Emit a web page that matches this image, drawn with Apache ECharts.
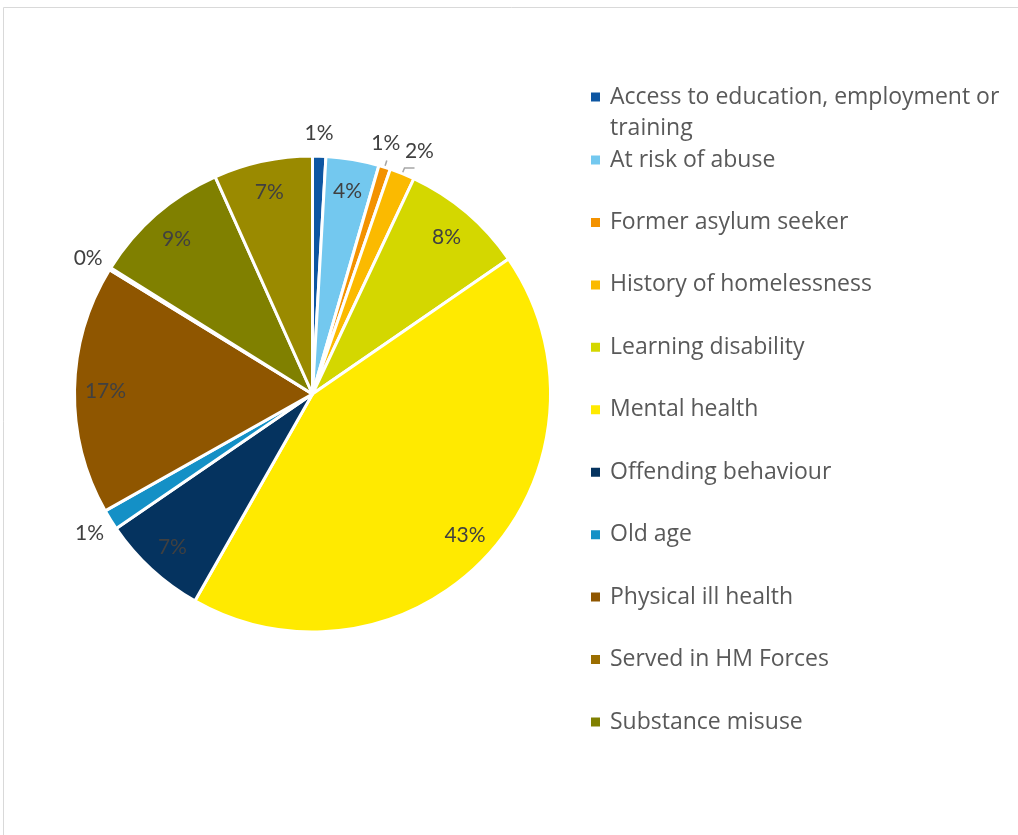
<!DOCTYPE html>
<html>
<head>
<meta charset="utf-8">
<script src="https://cdn.jsdelivr.net/npm/echarts@6/dist/echarts.min.js"></script>
<style>
html,body{margin:0;padding:0;background:#fff;}
#chart{width:1018px;height:835px;}
</style>
</head>
<body>
<div id="chart"></div>
<script>
// ---- data ----
const categories = [
  'Access to education, employment or training',
  'At risk of abuse',
  'Former asylum seeker',
  'History of homelessness',
  'Learning disability',
  'Mental health',
  'Offending behaviour',
  'Old age',
  'Physical ill health',
  'Served in HM Forces',
  'Substance misuse',
  'Other'
];
const values = [0.9, 3.6, 0.8, 1.7, 8.4, 42.8, 7.2, 1.4, 16.9, 0.15, 9.4, 6.7];
const colors = ['#0d56a2', '#73c8ef', '#f39200', '#fbba00', '#d4d700', '#ffea00',
                '#05335f', '#1490c6', '#8f5600', '#9b6e00', '#808000', '#9a8a00'];
// which labels sit outside the pie
const outsideLabel = [true, false, true, true, false, false, false, true, false, true, false, false];

const legendFirst = [categories[0]];
const legendRest = categories.slice(1, 11);

const labelFont = { fontFamily: 'Lato', fontSize: 21, color: '#404040' };
const fmt = p => Math.round(p.percent) + '%';

const center = [312.5, 394];
const R = 238;

const mainData = categories.map((c, i) => {
  const d = { name: c, value: values[i], itemStyle: { color: colors[i] } };
  if (i === 2) {
    d.label = { show: true, formatter: ' ' };
    d.labelLine = { show: true, length: 7, length2: 0 };
  }
  if (i === 3) {
    d.label = { show: true, formatter: ' ' };
    d.labelLine = { show: true, length: 6, length2: 10 };
  }
  return d;
});

const innerData = categories.map((c, i) => ({
  name: c, value: values[i],
  label: { show: !outsideLabel[i], offset: [0, 1] }
}));
const outerOffsets = { 0: [-1, 4], 2: [-7, 2], 3: [7, 3], 7: [2, -1], 9: [1, 4] };
const outerData = categories.map((c, i) => ({
  name: c, value: values[i],
  label: { show: outsideLabel[i], offset: outerOffsets[i] || [0, 0] }
}));

const chart = echarts.init(document.getElementById('chart'));
const legendText = { fontFamily: 'Open Sans', fontSize: 23, color: '#595959', lineHeight: 31, padding: [0, 0, 0, 4] };
chart.setOption({
  animation: false,
  graphic: [{
    type: 'rect',
    shape: { x: 3.5, y: 7.5, width: 1030, height: 850 },
    style: { fill: 'none', stroke: '#d9d9d9', lineWidth: 1 },
    silent: true
  }],
  legend: [{
    data: legendFirst,
    orient: 'vertical',
    left: 589, top: 50.5,
    padding: 0,
    icon: 'rect', itemWidth: 11, itemHeight: 11,
    selectedMode: false,
    formatter: n => '\n' + n.replace('employment or ', 'employment or\n'),
    textStyle: legendText
  }, {
    data: legendRest,
    orient: 'vertical',
    left: 589, top: 144.5,
    padding: 0,
    icon: 'rect', itemWidth: 11, itemHeight: 11,
    itemGap: 31.44,
    selectedMode: false,
    textStyle: legendText
  }],
  series: [{
    type: 'pie',
    center: center,
    radius: [0, R],
    startAngle: 90,
    clockwise: true,
    avoidLabelOverlap: false,
    percentPrecision: 1,
    itemStyle: { borderColor: '#ffffff', borderWidth: 3 },
    label: { show: false },
    labelLine: { show: false, lineStyle: { color: '#a6a6a6', width: 1.5 } },
    emphasis: { disabled: true },
    data: mainData
  }, {
    type: 'pie',
    center: center,
    radius: [170, R],
    startAngle: 90,
    silent: true,
    avoidLabelOverlap: false,
    percentPrecision: 1,
    itemStyle: { color: 'rgba(0,0,0,0)', borderWidth: 0 },
    label: Object.assign({ position: 'inside', formatter: fmt }, labelFont),
    labelLine: { show: false },
    emphasis: { disabled: true },
    data: innerData
  }, {
    type: 'pie',
    center: center,
    radius: [240, 284],
    startAngle: 90,
    silent: true,
    avoidLabelOverlap: false,
    percentPrecision: 1,
    itemStyle: { color: 'rgba(0,0,0,0)', borderWidth: 0 },
    label: Object.assign({ position: 'inside', formatter: fmt }, labelFont),
    labelLine: { show: false },
    emphasis: { disabled: true },
    data: outerData
  }]
});
</script>
</body>
</html>
